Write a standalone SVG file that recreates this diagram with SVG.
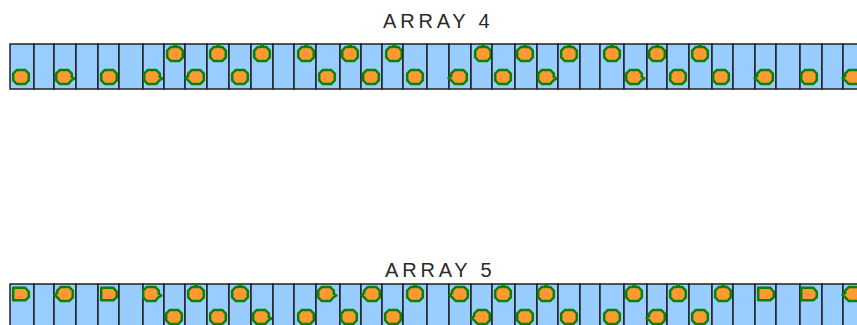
<svg xmlns="http://www.w3.org/2000/svg" xmlns:xlink="http://www.w3.org/1999/xlink" width="857" height="325" viewBox="0 0 857 325">
<style>
.title{font-family:"Liberation Sans",Arial,sans-serif;font-size:20px;letter-spacing:3.8px;fill:#2a2a2a}
.cell{fill:#99ccff;stroke:#222;stroke-width:1.5}
.blob{fill:#ff9933;stroke:#088208;stroke-width:2.5;stroke-linejoin:round}
</style>
<defs>
<path id="bo" class="blob" d="M-4.3,-7 L4.3,-7 L7.8,-3.3 L7.8,3.3 L4.3,7 L-4.3,7 L-7.8,3.3 L-7.8,-3.3 Z"/>
<path id="bt" class="blob" d="M-4.3,-7 L-1,-7 L0,-9.5 L1.5,-7 L4.3,-7 L7.8,-3.3 L7.8,3.3 L4.3,7 L-4.3,7 L-7.8,3.3 L-7.8,-3.3 Z"/>
<path id="br" class="blob" d="M-4.3,-7 L4.3,-7 L7.8,-3.3 L7.8,0 L10.5,1.5 L7.5,3.3 L4.3,7 L-4.3,7 L-7.8,3.3 L-7.8,-3.3 Z"/>
<path id="bl" class="blob" d="M-4.3,-7 L4.3,-7 L7.8,-3.3 L7.8,3.3 L4.3,7 L-4.3,7 L-7.8,3.3 L-10.5,1 L-7.8,-1 L-7.8,-3.3 Z"/>
<path id="bd" class="blob" d="M-7.8,-6.3 L4.3,-6.3 L7.8,-2.2 L7.8,3 L4.3,6.3 L-7.8,6.3 Z"/>
</defs>
<g id="array4">
<text class="title" x="383" y="28">ARRAY 4</text>
<g id="a4c1"><rect class="cell" x="10" y="44" width="24" height="45"/><use href="#bo" x="21" y="77"/></g>
<g id="a4c2"><rect class="cell" x="34" y="44" width="20" height="45"/></g>
<g id="a4c3"><rect class="cell" x="54" y="44" width="22" height="45"/><use href="#br" x="64" y="77"/></g>
<g id="a4c4"><rect class="cell" x="76" y="44" width="22" height="45"/></g>
<g id="a4c5"><rect class="cell" x="98" y="44" width="21" height="45"/><use href="#bo" x="109" y="77"/></g>
<g id="a4c6"><rect class="cell" x="119" y="44" width="24" height="45"/></g>
<g id="a4c7"><rect class="cell" x="143" y="44" width="21" height="45"/><use href="#br" x="152" y="77"/></g>
<g id="a4c8"><rect class="cell" x="164" y="44" width="21" height="45"/><use href="#bt" x="175" y="54"/></g>
<g id="a4c9"><rect class="cell" x="185" y="44" width="22" height="45"/><use href="#bl" x="196" y="77"/></g>
<g id="a4c10"><rect class="cell" x="207" y="44" width="22" height="45"/><use href="#bt" x="218" y="54"/></g>
<g id="a4c11"><rect class="cell" x="229" y="44" width="22" height="45"/><use href="#bo" x="240" y="77"/></g>
<g id="a4c12"><rect class="cell" x="251" y="44" width="22" height="45"/><use href="#bt" x="262" y="54"/></g>
<g id="a4c13"><rect class="cell" x="273" y="44" width="21" height="45"/></g>
<g id="a4c14"><rect class="cell" x="294" y="44" width="22" height="45"/><use href="#bt" x="306" y="54"/></g>
<g id="a4c15"><rect class="cell" x="316" y="44" width="24" height="45"/><use href="#bo" x="327" y="77"/></g>
<g id="a4c16"><rect class="cell" x="340" y="44" width="21" height="45"/><use href="#bt" x="350" y="54"/></g>
<g id="a4c17"><rect class="cell" x="361" y="44" width="21" height="45"/><use href="#bo" x="371" y="77"/></g>
<g id="a4c18"><rect class="cell" x="382" y="44" width="21" height="45"/><use href="#bt" x="394" y="54"/></g>
<g id="a4c19"><rect class="cell" x="403" y="44" width="24" height="45"/><use href="#bo" x="415" y="77"/></g>
<g id="a4c20"><rect class="cell" x="427" y="44" width="22" height="45"/></g>
<g id="a4c21"><rect class="cell" x="449" y="44" width="22" height="45"/><use href="#bl" x="459" y="77"/></g>
<g id="a4c22"><rect class="cell" x="471" y="44" width="21" height="45"/><use href="#bt" x="483" y="54"/></g>
<g id="a4c23"><rect class="cell" x="492" y="44" width="23" height="45"/><use href="#bo" x="503" y="77"/></g>
<g id="a4c24"><rect class="cell" x="515" y="44" width="22" height="45"/><use href="#bt" x="525" y="54"/></g>
<g id="a4c25"><rect class="cell" x="537" y="44" width="21" height="45"/><use href="#br" x="546" y="77"/></g>
<g id="a4c26"><rect class="cell" x="558" y="44" width="22" height="45"/><use href="#bt" x="569" y="54"/></g>
<g id="a4c27"><rect class="cell" x="580" y="44" width="20" height="45"/></g>
<g id="a4c28"><rect class="cell" x="600" y="44" width="24" height="45"/><use href="#bt" x="612" y="54"/></g>
<g id="a4c29"><rect class="cell" x="624" y="44" width="23" height="45"/><use href="#br" x="634" y="77"/></g>
<g id="a4c30"><rect class="cell" x="647" y="44" width="20" height="45"/><use href="#bt" x="657" y="54"/></g>
<g id="a4c31"><rect class="cell" x="667" y="44" width="22" height="45"/><use href="#bo" x="678" y="77"/></g>
<g id="a4c32"><rect class="cell" x="689" y="44" width="23" height="45"/><use href="#bt" x="700" y="54"/></g>
<g id="a4c33"><rect class="cell" x="712" y="44" width="21" height="45"/><use href="#bo" x="721" y="77"/></g>
<g id="a4c34"><rect class="cell" x="733" y="44" width="22" height="45"/></g>
<g id="a4c35"><rect class="cell" x="755" y="44" width="21" height="45"/><use href="#bl" x="765" y="77"/></g>
<g id="a4c36"><rect class="cell" x="776" y="44" width="24" height="45"/></g>
<g id="a4c37"><rect class="cell" x="800" y="44" width="22" height="45"/><use href="#bo" x="809" y="77"/></g>
<g id="a4c38"><rect class="cell" x="822" y="44" width="21" height="45"/></g>
<g id="a4c39"><rect class="cell" x="843" y="44" width="22" height="45"/><use href="#bl" x="853" y="77"/></g>
</g>
<g id="array5">
<text class="title" x="385" y="277">ARRAY 5</text>
<g id="a5c1"><rect class="cell" x="10" y="284" width="24" height="45"/><use href="#bd" x="21" y="294"/></g>
<g id="a5c2"><rect class="cell" x="34" y="284" width="20" height="45"/></g>
<g id="a5c3"><rect class="cell" x="54" y="284" width="22" height="45"/><use href="#bl" x="65" y="294"/></g>
<g id="a5c4"><rect class="cell" x="76" y="284" width="22" height="45"/></g>
<g id="a5c5"><rect class="cell" x="98" y="284" width="21" height="45"/><use href="#bd" x="109" y="294"/></g>
<g id="a5c6"><rect class="cell" x="119" y="284" width="24" height="45"/></g>
<g id="a5c7"><rect class="cell" x="143" y="284" width="21" height="45"/><use href="#br" x="151" y="294"/></g>
<g id="a5c8"><rect class="cell" x="164" y="284" width="21" height="45"/><use href="#bo" x="174" y="317"/></g>
<g id="a5c9"><rect class="cell" x="185" y="284" width="22" height="45"/><use href="#bt" x="196" y="294"/></g>
<g id="a5c10"><rect class="cell" x="207" y="284" width="22" height="45"/><use href="#bo" x="218" y="317"/></g>
<g id="a5c11"><rect class="cell" x="229" y="284" width="22" height="45"/><use href="#bt" x="240" y="294"/></g>
<g id="a5c12"><rect class="cell" x="251" y="284" width="22" height="45"/><use href="#br" x="261" y="317"/></g>
<g id="a5c13"><rect class="cell" x="273" y="284" width="21" height="45"/></g>
<g id="a5c14"><rect class="cell" x="294" y="284" width="22" height="45"/><use href="#bo" x="306" y="317"/></g>
<g id="a5c15"><rect class="cell" x="316" y="284" width="24" height="45"/><use href="#br" x="326" y="294"/></g>
<g id="a5c16"><rect class="cell" x="340" y="284" width="21" height="45"/><use href="#bo" x="349" y="317"/></g>
<g id="a5c17"><rect class="cell" x="361" y="284" width="21" height="45"/><use href="#bl" x="372" y="294"/></g>
<g id="a5c18"><rect class="cell" x="382" y="284" width="21" height="45"/><use href="#bo" x="393" y="317"/></g>
<g id="a5c19"><rect class="cell" x="403" y="284" width="24" height="45"/><use href="#bt" x="415" y="294"/></g>
<g id="a5c20"><rect class="cell" x="427" y="284" width="22" height="45"/></g>
<g id="a5c21"><rect class="cell" x="449" y="284" width="22" height="45"/><use href="#bl" x="460" y="294"/></g>
<g id="a5c22"><rect class="cell" x="471" y="284" width="21" height="45"/><use href="#bl" x="482" y="317"/></g>
<g id="a5c23"><rect class="cell" x="492" y="284" width="23" height="45"/><use href="#bt" x="503" y="294"/></g>
<g id="a5c24"><rect class="cell" x="515" y="284" width="22" height="45"/><use href="#bo" x="525" y="317"/></g>
<g id="a5c25"><rect class="cell" x="537" y="284" width="21" height="45"/><use href="#bt" x="546" y="294"/></g>
<g id="a5c26"><rect class="cell" x="558" y="284" width="22" height="45"/><use href="#bo" x="569" y="317"/></g>
<g id="a5c27"><rect class="cell" x="580" y="284" width="20" height="45"/></g>
<g id="a5c28"><rect class="cell" x="600" y="284" width="24" height="45"/><use href="#bo" x="612" y="317"/></g>
<g id="a5c29"><rect class="cell" x="624" y="284" width="23" height="45"/><use href="#bt" x="634" y="294"/></g>
<g id="a5c30"><rect class="cell" x="647" y="284" width="20" height="45"/><use href="#bl" x="657" y="317"/></g>
<g id="a5c31"><rect class="cell" x="667" y="284" width="22" height="45"/><use href="#bt" x="678" y="294"/></g>
<g id="a5c32"><rect class="cell" x="689" y="284" width="23" height="45"/><use href="#bo" x="700" y="317"/></g>
<g id="a5c33"><rect class="cell" x="712" y="284" width="21" height="45"/><use href="#bt" x="723" y="294"/></g>
<g id="a5c34"><rect class="cell" x="733" y="284" width="22" height="45"/></g>
<g id="a5c35"><rect class="cell" x="755" y="284" width="21" height="45"/><use href="#bd" x="766" y="294"/></g>
<g id="a5c36"><rect class="cell" x="776" y="284" width="24" height="45"/></g>
<g id="a5c37"><rect class="cell" x="800" y="284" width="22" height="45"/><use href="#bd" x="809" y="294"/></g>
<g id="a5c38"><rect class="cell" x="822" y="284" width="21" height="45"/></g>
<g id="a5c39"><rect class="cell" x="843" y="284" width="22" height="45"/><use href="#bl" x="853" y="294"/></g>
</g>
<g id="connectors"/>
</svg>
